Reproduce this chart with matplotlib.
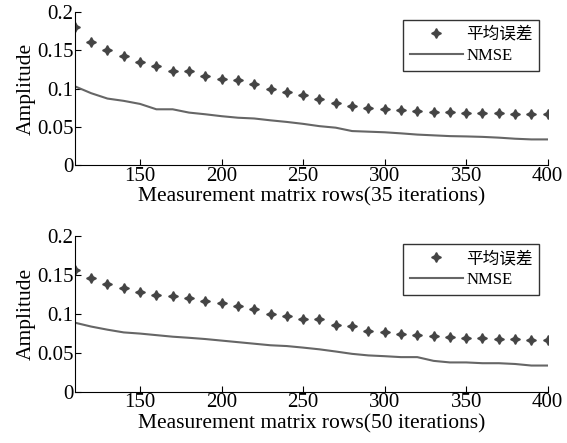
import matplotlib
matplotlib.use('Agg')
import matplotlib.pyplot as plt

plt.rcParams['font.family'] = ['Liberation Serif', 'Noto Sans CJK SC']

rows = list(range(110, 401, 10))

# 35 iterations
err_35 = [0.180, 0.161, 0.151, 0.142, 0.135, 0.129, 0.123, 0.123, 0.116, 0.113,
          0.111, 0.106, 0.099, 0.095, 0.092, 0.086, 0.081, 0.0775, 0.0744, 0.073,
          0.0722, 0.0709, 0.070, 0.0696, 0.0687, 0.0687, 0.068, 0.0674, 0.0674, 0.0674]
nmse_35 = [0.103, 0.094, 0.087, 0.084, 0.080, 0.073, 0.073, 0.0687, 0.0665, 0.064,
           0.062, 0.061, 0.0586, 0.0565, 0.054, 0.051, 0.049, 0.0446, 0.0438, 0.043,
           0.0416, 0.040, 0.039, 0.038, 0.0376, 0.037, 0.036, 0.0346, 0.0337, 0.0337]

# 50 iterations
err_50 = [0.1565, 0.1457, 0.138, 0.134, 0.1287, 0.1243, 0.123, 0.121, 0.1165, 0.1143,
          0.110, 0.107, 0.100, 0.097, 0.094, 0.094, 0.086, 0.085, 0.078, 0.0765,
          0.074, 0.073, 0.072, 0.0704, 0.069, 0.0687, 0.068, 0.068, 0.067, 0.067]
nmse_50 = [0.089, 0.084, 0.080, 0.0765, 0.075, 0.073, 0.071, 0.0696, 0.068, 0.066,
           0.064, 0.062, 0.060, 0.059, 0.057, 0.0548, 0.052, 0.049, 0.047, 0.046,
           0.0448, 0.0448, 0.040, 0.038, 0.038, 0.037, 0.037, 0.036, 0.034, 0.034]

panels = [(err_35, nmse_35, 'Measurement matrix rows(35 iterations)'),
          (err_50, nmse_50, 'Measurement matrix rows(50 iterations)')]

fig = plt.figure(figsize=(5.67, 4.43), dpi=100)
boxes = [[0.132, 0.627, 0.834, 0.346], [0.132, 0.115, 0.834, 0.352]]
mark_col = '#444444'
line_col = '#666666'

for box, (err, nmse, xlab) in zip(boxes, panels):
    ax = fig.add_axes(box)
    ax.plot(rows, err, linestyle='none', marker=(4, 1, 0), markersize=7,
            color=mark_col, label='平均误差')
    ax.plot(rows, nmse, color=line_col, linewidth=1.5, label='NMSE')
    ax.set_xlim(110, 400)
    ax.set_ylim(0, 0.2)
    ax.set_xticks([150, 200, 250, 300, 350, 400])
    ax.set_yticks([0, 0.05, 0.1, 0.15, 0.2])
    ax.set_yticklabels(['0', '0.05', '0.1', '0.15', '0.2'])
    ax.spines['top'].set_visible(False)
    ax.spines['right'].set_visible(False)
    ax.tick_params(direction='in', labelsize=15, length=4, pad=1)
    ax.set_xlabel(xlab, fontsize=15.5, labelpad=1)
    ax.set_ylabel('Amplitude', fontsize=15.5, labelpad=1)
    leg = ax.legend(loc='upper right', fontsize=12, fancybox=False,
                    edgecolor='#333333', framealpha=1, borderaxespad=0.5,
                    handlelength=3.2, handletextpad=0.2, labelspacing=0.3)
    leg.get_frame().set_linewidth(1.0)

fig.savefig('out.png', dpi=100)
